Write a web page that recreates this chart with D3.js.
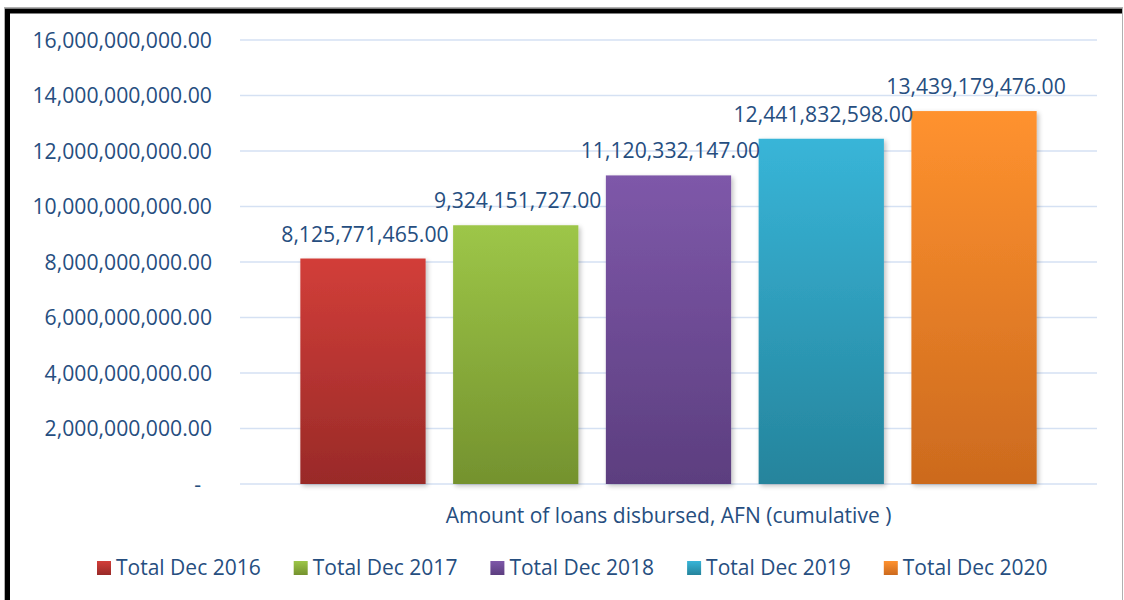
<!DOCTYPE html>
<html>
<head>
<meta charset="utf-8">
<script src="https://cdn.jsdelivr.net/npm/d3@7"></script>
<style>
  html, body { margin: 0; padding: 0; background: #fff; }
  svg { display: block; font-family: "Open Sans", sans-serif; }
</style>
</head>
<body>
<svg id="chart"></svg>
<script>
// series (one category, five series as in the source chart)
const seriesNames = ["Total Dec 2016", "Total Dec 2017", "Total Dec 2018", "Total Dec 2019", "Total Dec 2020"];
const seriesValues = [8125771465.00, 9324151727.00, 11120332147.00, 12441832598.00, 13439179476.00];
const categoryLabel = "Amount of loans disbursed, AFN (cumulative )";
const yTicks = [0, 2e9, 4e9, 6e9, 8e9, 10e9, 12e9, 14e9, 16e9];

// top / bottom colours of the bar gradients
const topColours = ["#d23e39", "#9dc648", "#7e58a9", "#38b5d8", "#ff922f"];
const bottomColours = ["#992a28", "#74922e", "#5c3e7f", "#25849c", "#cc6a1e"];

const width = 1124, height = 600;
const textColour = "#264e7f";

const svg = d3.select("#chart")
  .attr("width", width)
  .attr("height", height);

const defs = svg.append("defs");

// soft shadow for bars
const filter = defs.append("filter")
  .attr("id", "bar-shadow")
  .attr("x", "-10%").attr("y", "-10%")
  .attr("width", "130%").attr("height", "130%");
filter.append("feGaussianBlur")
  .attr("in", "SourceAlpha")
  .attr("stdDeviation", 2.5)
  .attr("result", "blur");
filter.append("feOffset")
  .attr("dx", 1.5).attr("dy", 1.5)
  .attr("result", "offBlur");
filter.append("feComponentTransfer")
  .attr("in", "offBlur")
  .attr("result", "shadow")
  .append("feFuncA")
  .attr("type", "linear")
  .attr("slope", 0.25);
const merge = filter.append("feMerge");
merge.append("feMergeNode").attr("in", "shadow");
merge.append("feMergeNode").attr("in", "SourceGraphic");

seriesNames.forEach((s, i) => {
  const g = defs.append("linearGradient")
    .attr("id", "grad" + i)
    .attr("x1", 0).attr("y1", 0)
    .attr("x2", 0).attr("y2", 1);
  g.append("stop").attr("offset", "0%").attr("stop-color", topColours[i]);
  g.append("stop").attr("offset", "100%").attr("stop-color", bottomColours[i]);
});

// frame: thin grey outline with a heavy black top/left edge
svg.append("rect")
  .attr("x", 4.5).attr("y", 7.5)
  .attr("width", 1118).attr("height", 620)
  .attr("fill", "none")
  .attr("stroke", "#b0b0b0")
  .attr("stroke-width", 1);
svg.append("path")
  .attr("d", "M7.5,640 L7.5,11 L1122,11")
  .attr("fill", "none")
  .attr("stroke", "#000")
  .attr("stroke-width", 5);

const plot = { left: 240, right: 1097, top: 40, bottom: 484 };

const y = d3.scaleLinear()
  .domain([0, 16e9])
  .range([plot.bottom, plot.top]);

const x = d3.scaleBand()
  .domain(seriesNames)
  .range([plot.left, plot.right])
  .paddingInner(0.18)
  .paddingOuter(0.395);

// gridlines
svg.append("g")
  .selectAll("line")
  .data(yTicks)
  .join("line")
  .attr("x1", plot.left)
  .attr("x2", plot.right)
  .attr("y1", d => y(d))
  .attr("y2", d => y(d))
  .attr("stroke", "#d5e1f3")
  .attr("stroke-width", 1.5);

// y axis labels
const fmt = d3.format(",.2f");
const yAxis = svg.append("g")
  .attr("transform", `translate(212,0)`)
  .call(d3.axisLeft(y)
    .tickValues(yTicks)
    .tickSize(0)
    .tickPadding(0)
    .tickFormat(d => d === 0 ? "-" : fmt(d)));
yAxis.select(".domain").remove();
yAxis.selectAll("text")
  .attr("fill", textColour)
  .style("font-size", "21.2px")
  .style("font-family", "'Open Sans', sans-serif")
  .attr("dy", "0.34em")
  .attr("dx", d => d === 0 ? -11 : 0);

// bars
svg.append("g")
  .selectAll("rect")
  .data(seriesValues)
  .join("rect")
  .attr("x", (d, i) => x(seriesNames[i]))
  .attr("width", x.bandwidth())
  .attr("y", d => y(d))
  .attr("height", d => y(0) - y(d))
  .attr("fill", (d, i) => `url(#grad${i})`)
  .attr("filter", "url(#bar-shadow)");

// value labels
svg.append("g")
  .selectAll("text")
  .data(seriesValues)
  .join("text")
  .attr("x", (d, i) => x(seriesNames[i]) + x.bandwidth() / 2 + 2)
  .attr("y", d => y(d) - 17)
  .attr("text-anchor", "middle")
  .attr("fill", textColour)
  .style("font-size", "21.2px")
  .text(d => fmt(d));

// category label
svg.append("text")
  .attr("x", (plot.left + plot.right) / 2)
  .attr("y", 523)
  .attr("text-anchor", "middle")
  .attr("fill", textColour)
  .style("font-size", "21px")
  .text(categoryLabel);

// legend
const legend = svg.append("g")
  .attr("transform", "translate(97,568)");
const item = legend.selectAll("g")
  .data(seriesNames)
  .join("g")
  .attr("transform", (d, i) => `translate(${i * 196.7},0)`);
item.append("rect")
  .attr("x", 0).attr("y", -7)
  .attr("width", 14).attr("height", 14)
  .attr("fill", (d, i) => `url(#grad${i})`);
item.append("text")
  .attr("x", 19)
  .attr("y", 0)
  .attr("dy", "0.35em")
  .attr("fill", textColour)
  .style("font-size", "21px")
  .text(d => d);
</script>
</body>
</html>
